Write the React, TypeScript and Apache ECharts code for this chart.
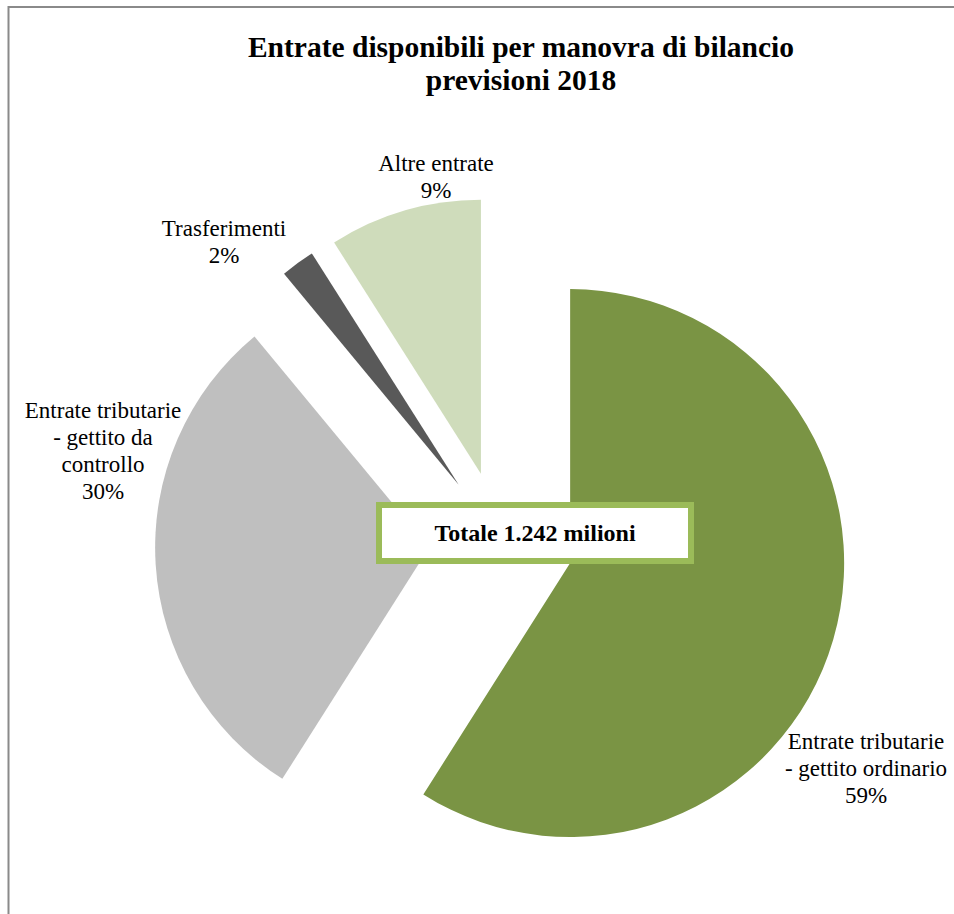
import React, { useEffect, useRef } from "react";
import * as echarts from "echarts";

const categories = [
  "Entrate tributarie\n- gettito ordinario",
  "Entrate tributarie\n- gettito da\ncontrollo",
  "Trasferimenti",
  "Altre entrate",
];
const shares = [59, 30, 2, 9];
const colors = ["#7a9444", "#bfbfbf", "#595959", "#cfdcbb"];
const titleText = "Entrate disponibili per manovra di bilancio\nprevisioni 2018";
const totalText = "Totale 1.242 milioni";

// label block centres (x, y) for each slice, as in the reference layout
const labelCenters = [
  [866, 768],
  [103, 451],
  [224, 242],
  [436, 177],
];

const FONT = "'Liberation Serif', 'Times New Roman', serif";

export default function App() {
  const ref = useRef<HTMLDivElement>(null);
  useEffect(() => {
    if (!ref.current) return;
    const chart = echarts.init(ref.current, undefined, { renderer: "svg" });
    const total = shares.reduce((a, b) => a + b, 0);
    const labelTexts = categories.map((name, i) => ({
      type: "text",
      x: labelCenters[i][0],
      y: labelCenters[i][1],
      z: 5,
      silent: true,
      style: {
        text: `${name}\n${Math.round((shares[i] / total) * 100)}%`,
        fontFamily: FONT,
        fontSize: 23,
        lineHeight: 27,
        fill: "#000",
        align: "center",
        verticalAlign: "middle",
      },
    }));
    chart.setOption({
      animation: false,
      backgroundColor: "#ffffff",
      title: {
        text: titleText,
        left: 521,
        top: 30,
        textAlign: "center",
        padding: 0,
        textStyle: {
          fontFamily: FONT,
          fontWeight: "bold",
          fontSize: 29.5,
          lineHeight: 33,
          color: "#000",
        },
      },
      series: [
        {
          type: "pie",
          center: [501, 543],
          radius: 274,
          startAngle: 90,
          clockwise: true,
          selectedMode: "multiple",
          selectedOffset: 72,
          emphasis: { disabled: true },
          select: { itemStyle: { borderWidth: 0 } },
          itemStyle: { borderWidth: 0 },
          label: { show: false },
          labelLine: { show: false },
          data: categories.map((name, i) => ({
            name,
            value: shares[i],
            selected: true,
            itemStyle: { color: colors[i] },
          })),
        },
      ],
      graphic: [
        {
          type: "rect",
          shape: { x: 8.5, y: 7, width: 1000, height: 1000 },
          style: { fill: "none", stroke: "#8a8a8a", lineWidth: 2 },
          silent: true,
        },
        ...labelTexts,
        {
          type: "rect",
          shape: { x: 379, y: 505, width: 312, height: 56 },
          style: { fill: "#ffffff", stroke: "#9bbb59", lineWidth: 6 },
          z: 10,
        },
        {
          type: "text",
          x: 535,
          y: 533,
          z: 11,
          style: {
            text: totalText,
            fontFamily: FONT,
            fontWeight: "bold",
            fontSize: 24,
            fill: "#000",
            align: "center",
            verticalAlign: "middle",
          },
        },
      ],
    });
    return () => chart.dispose();
  }, []);
  return (
    <div
      ref={ref}
      style={{ position: "absolute", left: 0, top: 0, width: 954, height: 914 }}
    />
  );
}
